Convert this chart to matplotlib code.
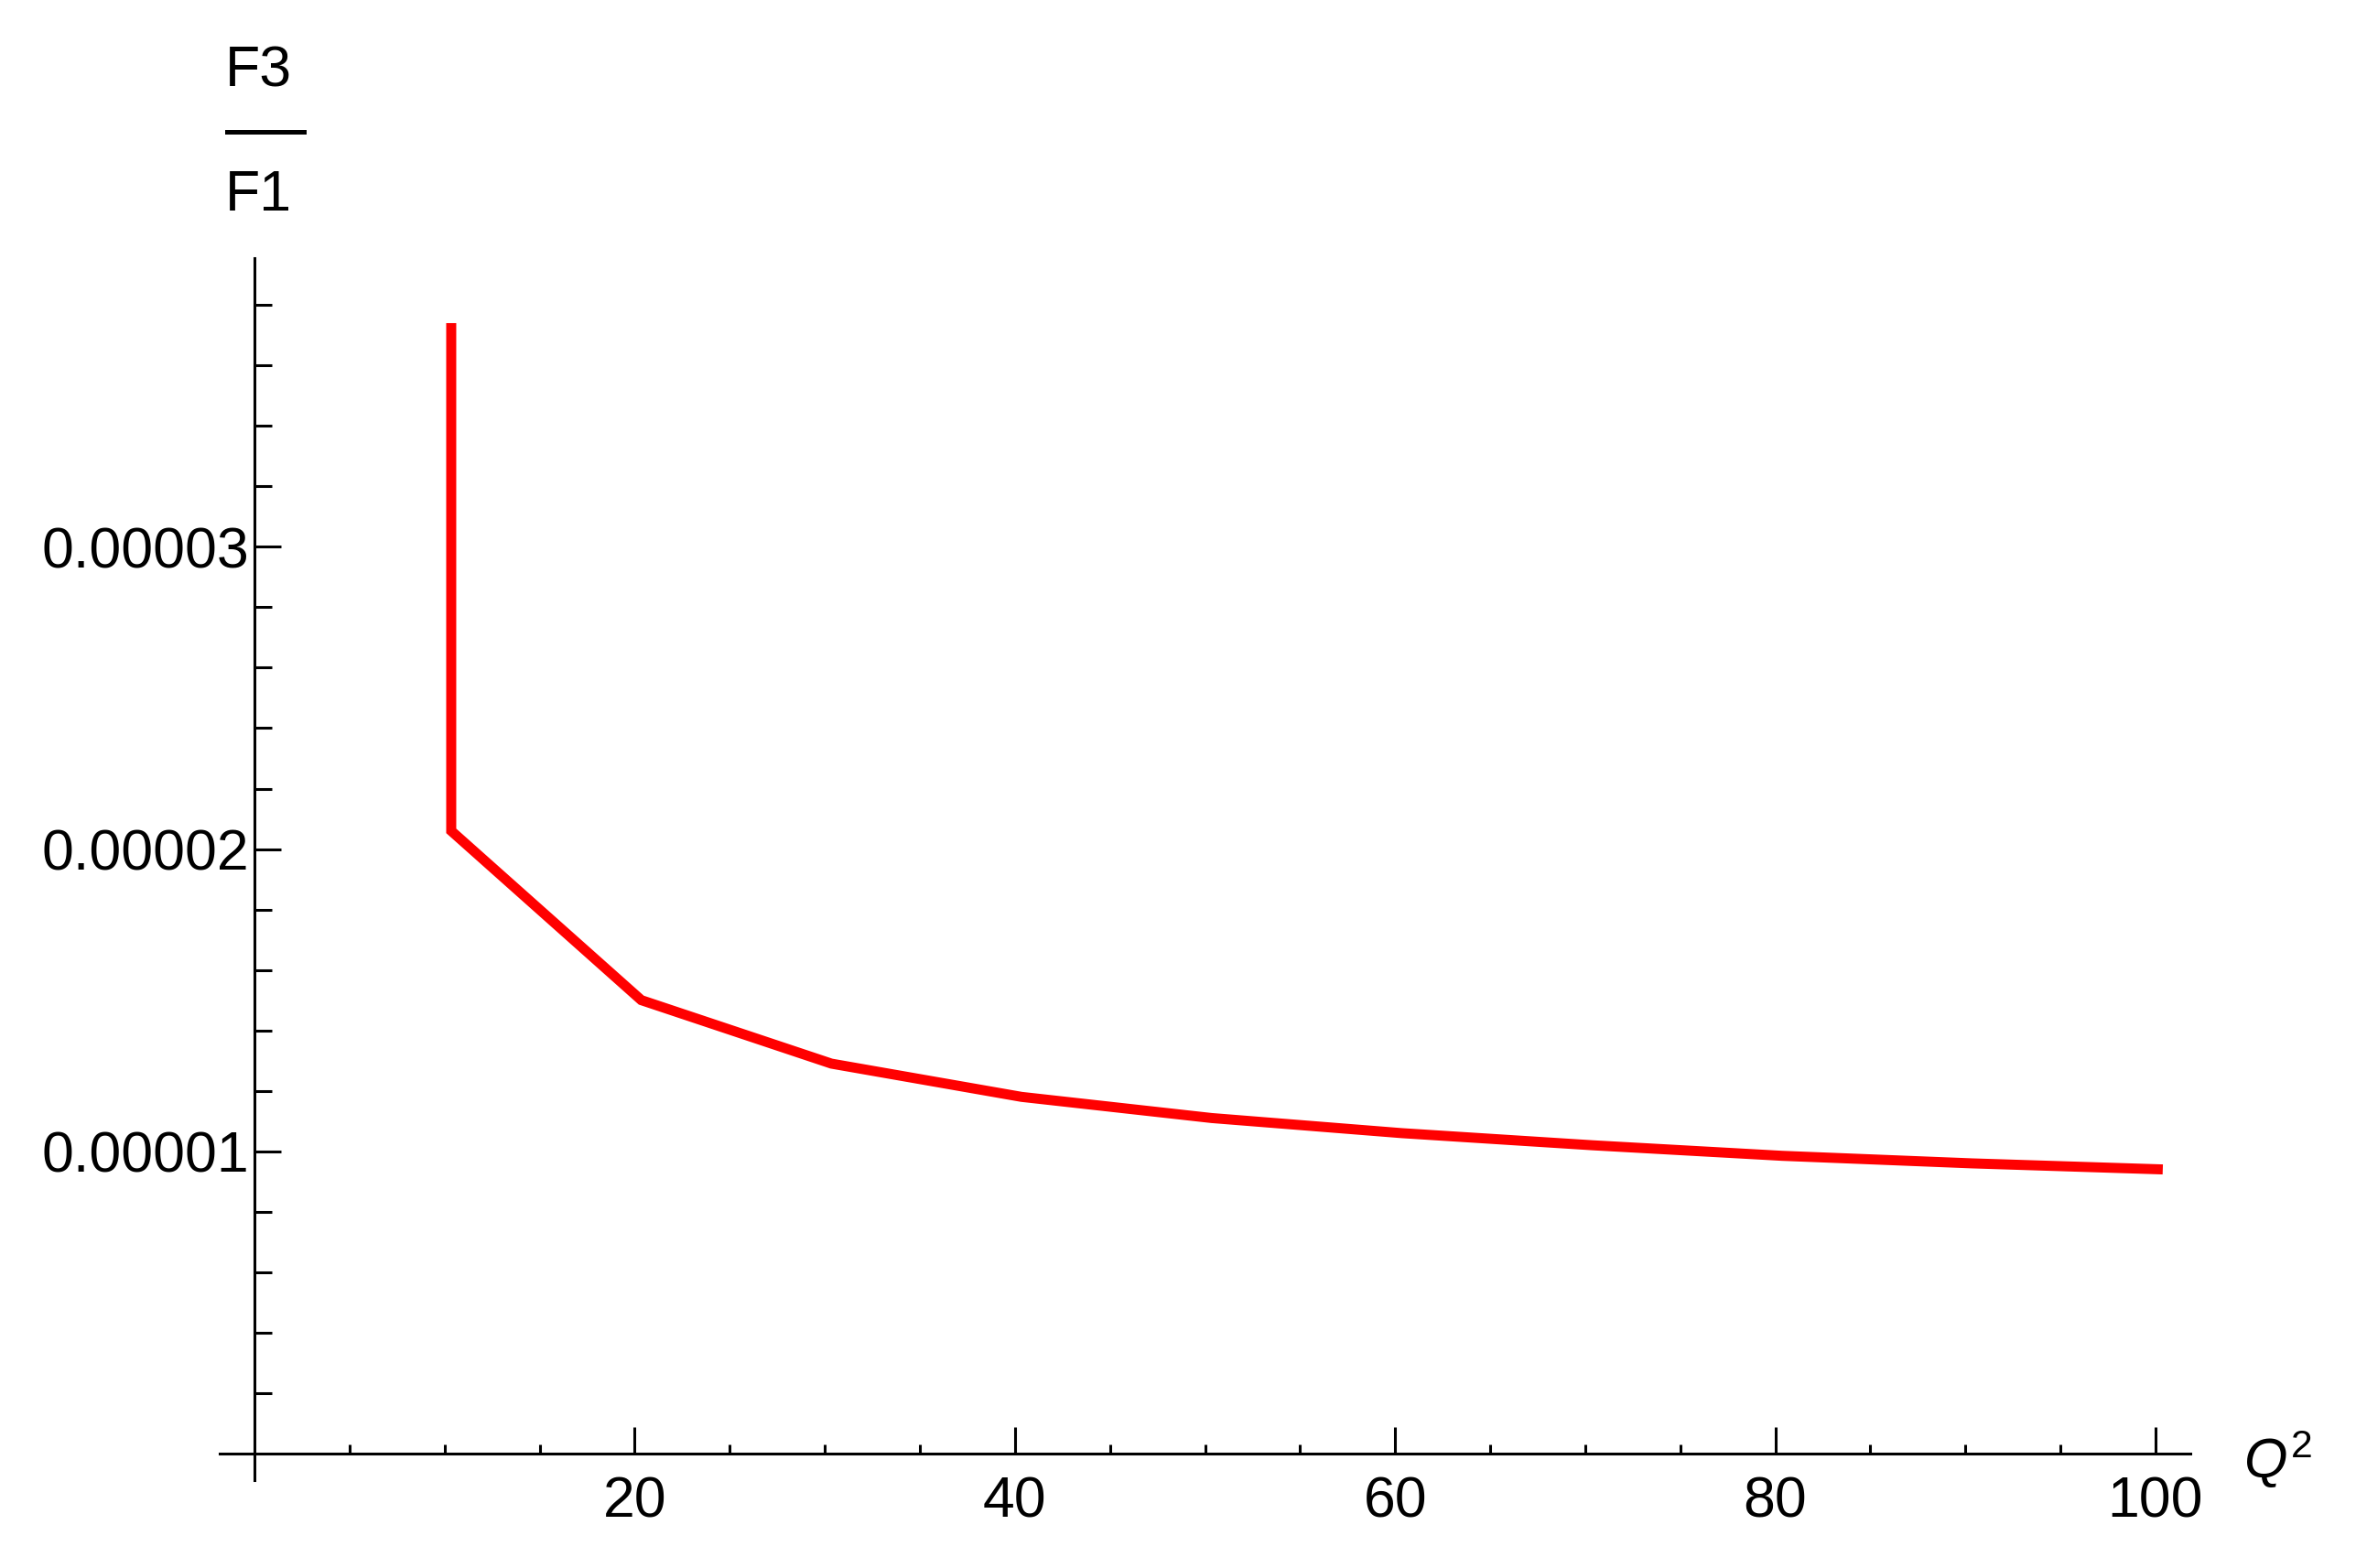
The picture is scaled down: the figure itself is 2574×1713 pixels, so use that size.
import matplotlib
matplotlib.use('Agg')
import matplotlib.pyplot as plt
import numpy as np
from matplotlib.lines import Line2D

# data
q2 = [10.35, 10.35, 20.35, 30.35, 40.35, 50.35, 60.35, 70.35, 80.35, 90.35, 100.38]
ratio = [3.74e-5, 2.06e-5, 1.50e-5, 1.29e-5, 1.18e-5, 1.11e-5,
         1.06e-5, 1.02e-5, 0.985e-5, 0.96e-5, 0.94e-5]

x_ticks = [20, 40, 60, 80, 100]
x_tick_labels = ['20', '40', '60', '80', '100']
y_ticks = [1e-5, 2e-5, 3e-5]
y_tick_labels = ['0.00001', '0.00002', '0.00003']

plt.rcParams['font.family'] = ['Liberation Sans', 'DejaVu Sans']
plt.rcParams['mathtext.fontset'] = 'custom'
plt.rcParams['mathtext.rm'] = 'Liberation Sans'
plt.rcParams['mathtext.it'] = 'Liberation Sans:italic'

W, H = 2574, 1713
fig = plt.figure(figsize=(W / 100, H / 100), dpi=100)
fig.patch.set_facecolor('white')

# axes box placed so the axis lines fall where they are in the reference
ax = fig.add_axes([240 / W, 96 / H, (2393 - 240) / W, (1617 - 282) / H])
ax.set_xlim(-1.83, 101.83)
ax.set_ylim(-0.88e-6, 39.55e-6)

ax.plot(q2, ratio, color='#ff0000', lw=7.9, solid_joinstyle='miter',
        solid_capstyle='butt', clip_on=False)

# Mathematica-like axes crossing at origin
for s in ['top', 'right']:
    ax.spines[s].set_visible(False)
for s in ['left', 'bottom']:
    ax.spines[s].set_position(('data', 0))
    ax.spines[s].set_linewidth(2.2)

ax.set_xticks(x_ticks)
ax.set_xticklabels(x_tick_labels)
ax.set_yticks(y_ticks)
ax.set_yticklabels(y_tick_labels)
ax.set_xticks([v for v in np.arange(5, 101, 5) if v not in x_ticks], minor=True)
ax.set_yticks([v * 1e-6 for v in range(2, 40, 2) if v % 10 != 0], minor=True)

ax.tick_params(axis='both', which='major', direction='in', length=21, width=2.2,
               labelsize=45)
ax.tick_params(axis='x', which='minor', direction='in', length=7, width=2.2)
ax.tick_params(axis='y', which='minor', direction='in', length=14, width=2.2)
ax.tick_params(axis='x', which='major', pad=17)
ax.tick_params(axis='y', which='major', pad=4.5)

# axis labels
ax.text(104.6, -0.2e-6, r'$Q^{2}$', fontsize=44, ha='left', va='center',
        clip_on=False)
fig.text(282 / W, 1 - 78 / H, 'F3', fontsize=45, ha='center', va='center')
fig.text(282 / W, 1 - 214 / H, 'F1', fontsize=45, ha='center', va='center')
fig.add_artist(Line2D([248 / W, 332 / W], [1 - 144 / H, 1 - 144 / H],
                      color='black', lw=3.6, transform=fig.transFigure))

fig.savefig('out.png', dpi=100)
